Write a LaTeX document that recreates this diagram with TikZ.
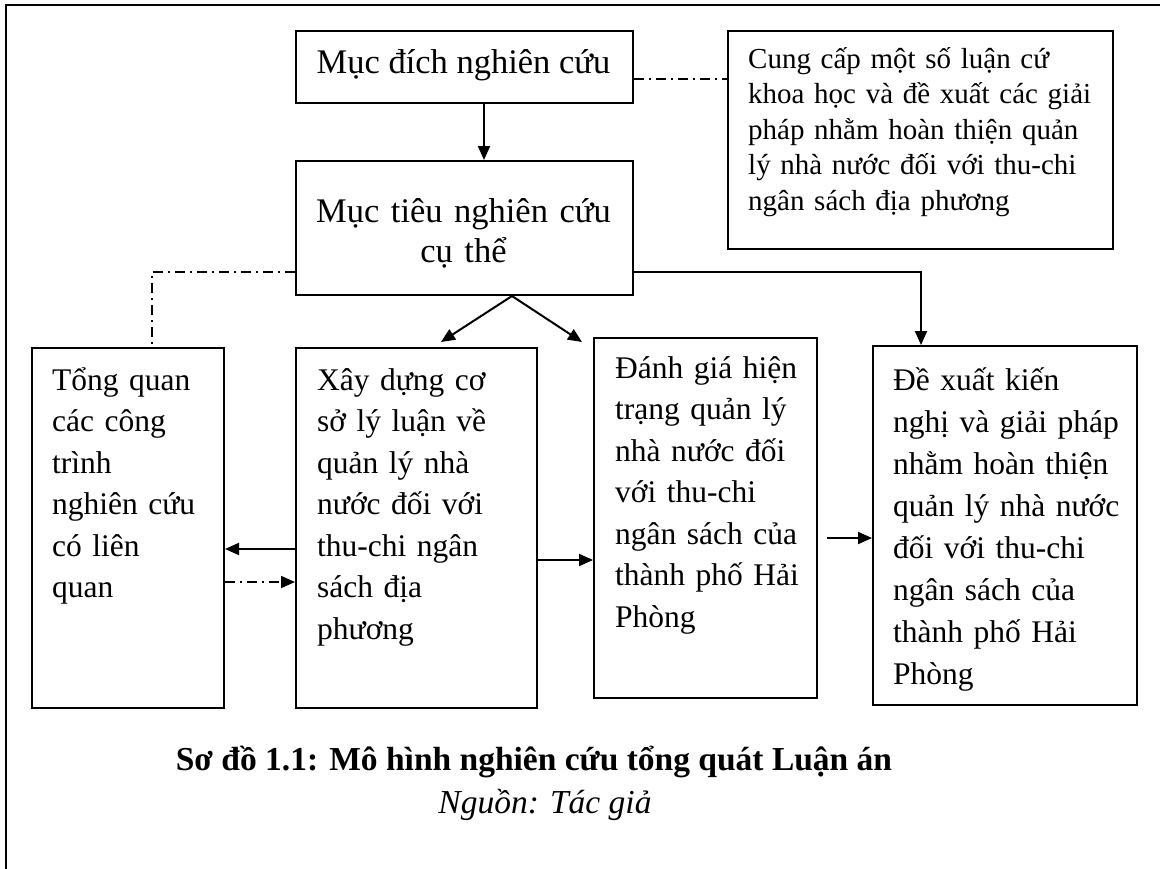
\documentclass[tikz,border=0pt]{standalone}
\usepackage{fontspec}
\setmainfont{Liberation Serif}
\usetikzlibrary{arrows.meta,calc}

\begin{document}
\begin{tikzpicture}[x=1pt,y=-1pt,
  boxframe/.style={draw, line width=2pt, inner sep=0pt, anchor=north west},
  bodytext/.style={inner sep=0pt, anchor=base west, align=left,
    font=\fontsize{31.5}{41.5}\selectfont},
  titletext/.style={inner sep=0pt, anchor=base, align=center,
    font=\fontsize{34.5}{40}\selectfont},
  arr/.style={line width=2pt, -{Triangle[length=14pt,width=12pt]}},
  dd/.style={line width=1.8pt, dash pattern=on 10pt off 5pt on 2pt off 5pt},
  ddarr/.style={dd, -{Triangle[length=14pt,width=12pt]}}
]
\useasboundingbox (0,0) rectangle (1160,868);

% page frame (only its top and left sides fall inside the page)
\draw[line width=2.5pt] (6,875) -- (6,5) -- (1170,5);

% boxes
\node[boxframe, minimum width=337pt, minimum height=72pt]  (b1) at (295,30)  {};
\node[boxframe, minimum width=385pt, minimum height=218pt] (tr) at (727,30)  {};
\node[boxframe, minimum width=337pt, minimum height=134pt] (b2) at (295,160) {};
\node[boxframe, minimum width=192pt, minimum height=360pt] (b3) at (31,347)  {};
\node[boxframe, minimum width=241pt, minimum height=360pt] (b4) at (295,347) {};
\node[boxframe, minimum width=223pt, minimum height=360pt] (b5) at (593,337) {};
\node[boxframe, minimum width=264pt, minimum height=359pt] (b6) at (872,345) {};

% box texts
\node[titletext] (t1) at (463.5,73) {Mục đích nghiên cứu};
\node[titletext, text width=337pt] (t2) at (463.5,222) {Mục tiêu nghiên cứu\\cụ thể};
\node[inner sep=0pt, anchor=base west, align=left, text width=345pt,
      font=\fontsize{29}{35.5}\selectfont] (ttr) at (748,68)
  {\makebox[\linewidth][s]{Cung cấp một số luận cứ}\\
   \makebox[\linewidth][s]{khoa học và đề xuất các giải}\\
   \makebox[\linewidth][s]{pháp nhằm hoàn thiện quản}\\
   \makebox[\linewidth][s]{lý nhà nước đối với thu-chi}\\
   ngân sách địa phương};
\node[bodytext, text width=165pt] (t3) at (52,390)
  {Tổng quan\\các công\\trình\\nghiên cứu\\có liên\\quan};
\node[bodytext, text width=215pt] (t4) at (317,390)
  {Xây dựng cơ\\sở lý luận về\\quản lý nhà\\nước đối với\\thu-chi ngân\\sách địa\\phương};
\node[bodytext, text width=200pt] (t5) at (615,378)
  {Đánh giá hiện\\trạng quản lý\\nhà nước đối\\với thu-chi\\ngân sách của\\thành phố Hải\\Phòng};
\node[bodytext, text width=240pt, font=\fontsize{31.5}{42}\selectfont] (t6) at (893,390)
  {Đề xuất kiến\\nghị và giải pháp\\nhằm hoàn thiện\\quản lý nhà nước\\đối với thu-chi\\ngân sách của\\thành phố Hải\\Phòng};

% connectors
\draw[arr] ([xshift=19.5pt]b1.south) -- ([xshift=19.5pt]b2.north);
\draw[dd] ([yshift=-12pt]b1.east) -- ([yshift=-12pt]b1.east -| tr.west);
\draw[dd] ([yshift=-44pt]b2.west) -| ([xshift=24pt]b3.north);
\draw[arr] ([yshift=-44pt]b2.east) -| ([xshift=-84pt]b6.north);
\draw[arr] ([xshift=47.5pt]b2.south) -- ([shift={(24.5pt,5pt)}]b4.north);
\draw[arr] ([xshift=47.5pt]b2.south) -- ([shift={(-11pt,-5pt)}]b5.north west);
\draw[arr] ([yshift=-21pt]b4.west) -- ([yshift=-21pt]b4.west -| b3.east);
\draw[ddarr] ([yshift=-54pt]b4.west -| b3.east) -- ([yshift=-54pt]b4.west);
\draw[arr] ([yshift=-32pt]b4.east) -- ([yshift=-32pt]b4.east -| b5.west);
\draw[arr] ([shift={(9pt,-20pt)}]b5.east) -- ([yshift=-20pt]b5.east -| b6.west);

% caption
\node[inner sep=0pt, anchor=base, font=\fontsize{33.5}{40}\selectfont\bfseries] (cap) at (534,770)
  {Sơ đồ 1.1: Mô hình nghiên cứu tổng quát Luận án};
\node[inner sep=0pt, anchor=base, font=\fontsize{33.5}{40}\selectfont\itshape] (src) at (545,813)
  {Nguồn: Tác giả};
\end{tikzpicture}
\end{document}
